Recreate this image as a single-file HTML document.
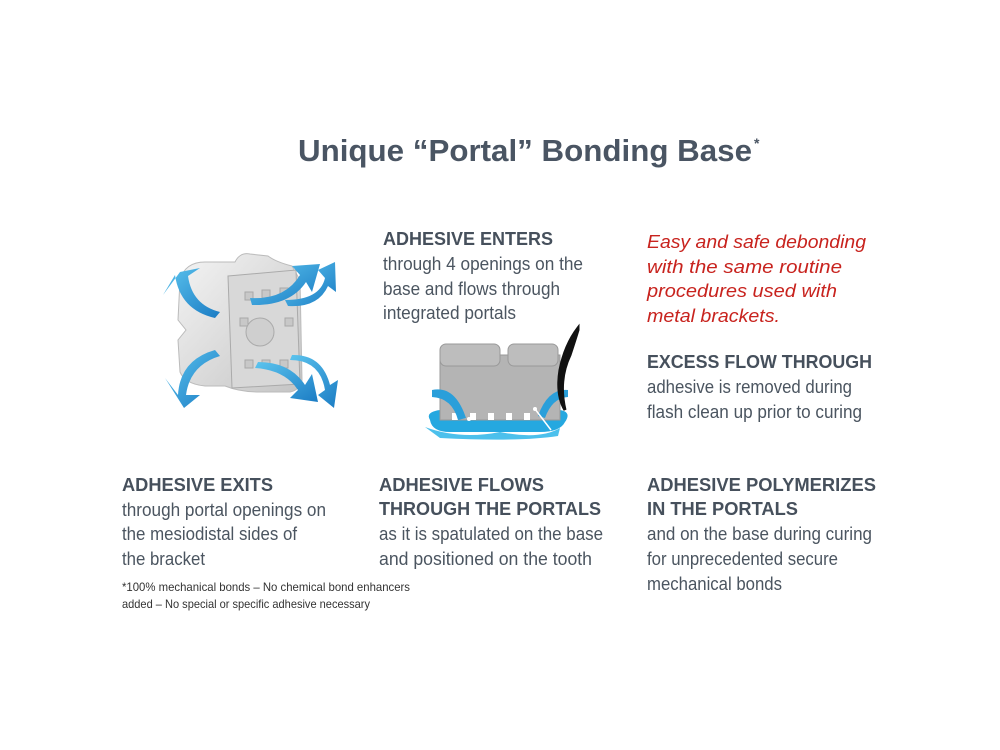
<!DOCTYPE html>
<html><head><meta charset="utf-8"><style>
html,body{margin:0;padding:0;background:#fff;}
svg{display:block}
.h{font-family:"Liberation Sans",sans-serif;font-weight:bold;font-size:18px;fill:#46505c}
.b{font-family:"Liberation Sans",sans-serif;font-size:18px;fill:#4b5560}
.r{font-family:"Liberation Sans",sans-serif;font-style:italic;font-size:18px;fill:#c8231e}
.f{font-family:"Liberation Sans",sans-serif;font-size:12px;fill:#333}
</style></head><body>
<svg width="1000" height="750" viewBox="0 0 1000 750" xmlns="http://www.w3.org/2000/svg">
<rect width="1000" height="750" fill="#fff"/>
<text x="298" y="161" style="font-family:'Liberation Sans',sans-serif;font-weight:bold;font-size:31px;fill:#4a5563" textLength="454" lengthAdjust="spacingAndGlyphs">Unique “Portal” Bonding Base</text>
<text x="754" y="148" style="font-family:'Liberation Sans',sans-serif;font-weight:bold;font-size:14px;fill:#4a5563">*</text>

<text class="h" x="383" y="245" textLength="170" lengthAdjust="spacingAndGlyphs">ADHESIVE ENTERS</text>
<text class="b" x="383" y="270" textLength="200" lengthAdjust="spacingAndGlyphs">through 4 openings on the</text>
<text class="b" x="383" y="295" textLength="177" lengthAdjust="spacingAndGlyphs">base and flows through</text>
<text class="b" x="383" y="319" textLength="133" lengthAdjust="spacingAndGlyphs">integrated portals</text>

<text class="r" x="647" y="248" textLength="219" lengthAdjust="spacingAndGlyphs">Easy and safe debonding</text>
<text class="r" x="647" y="273" textLength="195" lengthAdjust="spacingAndGlyphs">with the same routine</text>
<text class="r" x="647" y="297" textLength="190" lengthAdjust="spacingAndGlyphs">procedures used with</text>
<text class="r" x="647" y="322" textLength="133" lengthAdjust="spacingAndGlyphs">metal brackets.</text>

<text class="h" x="647" y="368" textLength="225" lengthAdjust="spacingAndGlyphs">EXCESS FLOW THROUGH</text>
<text class="b" x="647" y="393" textLength="205" lengthAdjust="spacingAndGlyphs">adhesive is removed during</text>
<text class="b" x="647" y="418" textLength="215" lengthAdjust="spacingAndGlyphs">flash clean up prior to curing</text>

<text class="h" x="122" y="491" textLength="151" lengthAdjust="spacingAndGlyphs">ADHESIVE EXITS</text>
<text class="b" x="122" y="516" textLength="204" lengthAdjust="spacingAndGlyphs">through portal openings on</text>
<text class="b" x="122" y="540" textLength="175" lengthAdjust="spacingAndGlyphs">the mesiodistal sides of</text>
<text class="b" x="122" y="565" textLength="83" lengthAdjust="spacingAndGlyphs">the bracket</text>
<text class="f" x="122" y="591" textLength="288" lengthAdjust="spacingAndGlyphs">*100% mechanical bonds – No chemical bond enhancers</text>
<text class="f" x="122" y="608" textLength="248" lengthAdjust="spacingAndGlyphs">added – No special or specific adhesive necessary</text>

<text class="h" x="379" y="491" textLength="165" lengthAdjust="spacingAndGlyphs">ADHESIVE FLOWS</text>
<text class="h" x="379" y="515" textLength="222" lengthAdjust="spacingAndGlyphs">THROUGH THE PORTALS</text>
<text class="b" x="379" y="540" textLength="224" lengthAdjust="spacingAndGlyphs">as it is spatulated on the base</text>
<text class="b" x="379" y="565" textLength="213" lengthAdjust="spacingAndGlyphs">and positioned on the tooth</text>

<text class="h" x="647" y="491" textLength="229" lengthAdjust="spacingAndGlyphs">ADHESIVE POLYMERIZES</text>
<text class="h" x="647" y="515" textLength="151" lengthAdjust="spacingAndGlyphs">IN THE PORTALS</text>
<text class="b" x="647" y="540" textLength="225" lengthAdjust="spacingAndGlyphs">and on the base during curing</text>
<text class="b" x="647" y="565" textLength="191" lengthAdjust="spacingAndGlyphs">for unprecedented secure</text>
<text class="b" x="647" y="590" textLength="135" lengthAdjust="spacingAndGlyphs">mechanical bonds</text>

<!-- bracket 3D -->
<defs>
<linearGradient id="g1" x1="0" y1="0" x2="1" y2="1"><stop offset="0" stop-color="#f4f4f4"/><stop offset="1" stop-color="#c4c4c4"/></linearGradient>
<linearGradient id="bl" x1="0" y1="0" x2="1" y2="1"><stop offset="0" stop-color="#5cc4ee"/><stop offset="1" stop-color="#1b7cc4"/></linearGradient>
</defs>
<path d="M180 280 Q185 262 205 262 L235 262 Q240 252 250 254 L268 256 Q276 262 292 266 L300 280 L302 380 Q300 390 290 392 L260 392 Q240 392 225 386 L205 386 Q185 384 180 372 L178 340 L186 330 L178 320 Z" fill="url(#g1)" stroke="#bbb"/>
<path d="M228 276 L296 270 L300 384 L232 388 Z" fill="#d8d8d8" stroke="#aaa"/>
<g fill="#c8c8c8" stroke="#a8a8a8">
<rect x="245" y="292" width="8" height="8"/><rect x="262" y="290" width="8" height="8"/><rect x="280" y="288" width="8" height="8"/>
<rect x="245" y="360" width="8" height="8"/><rect x="262" y="360" width="8" height="8"/><rect x="280" y="360" width="8" height="8"/>
<rect x="240" y="318" width="8" height="8"/><rect x="285" y="318" width="8" height="8"/>
</g>
<circle cx="260" cy="332" r="14" fill="#cfcfcf" stroke="#aaa"/>
<g fill="url(#bl)">
<path d="M215 318 Q180 310 175 275 L163 295 L180 272 L200 268 L188 276 Q192 305 220 312 Z"/>
<path d="M215 350 Q180 360 178 395 L165 378 L184 408 L200 395 L186 395 Q190 365 220 356 Z"/>
<path d="M250 298 Q285 300 300 275 L292 266 L320 264 L312 292 L306 282 Q290 306 252 305 Z"/>
<path d="M285 300 Q320 300 325 278 L318 270 L335 262 L336 292 L328 286 Q318 308 288 306 Z"/>
<path d="M255 368 Q285 370 298 390 L290 398 L318 402 L312 374 L305 385 Q290 362 258 362 Z"/>
<path d="M290 360 Q320 360 325 390 L318 395 L334 408 L338 380 L330 385 Q322 354 292 355 Z"/>
</g>

<!-- side view bracket -->
<path d="M430 420 Q425 412 440 410 L560 410 Q572 412 565 422 Q560 432 540 432 L450 432 Q432 432 430 420 Z" fill="#25a8e0"/>
<path d="M425 427 Q460 440 500 432 Q540 440 560 428 L558 436 Q520 442 440 438 Z" fill="#4cc0ec"/>
<rect x="440" y="355" width="120" height="65" fill="#b4b4b4" stroke="#999"/>
<rect x="440" y="344" width="60" height="22" rx="6" fill="#bdbdbd" stroke="#999"/>
<rect x="508" y="344" width="50" height="22" rx="6" fill="#bdbdbd" stroke="#999"/>
<g fill="#fff"><rect x="452" y="413" width="6" height="7"/><rect x="470" y="413" width="6" height="7"/><rect x="488" y="413" width="6" height="7"/><rect x="506" y="413" width="6" height="7"/><rect x="524" y="413" width="6" height="7"/></g>
<path d="M432 390 Q455 385 466 418 L458 420 Q452 398 432 397 Z" fill="#2a9fda"/>
<path d="M568 390 Q548 388 538 416 L545 418 Q552 398 568 397 Z" fill="#2a9fda"/>
<path d="M578 328 Q565 345 560 370 Q556 395 565 410 Q558 380 570 355 Q575 340 578 330 Z" fill="#111" stroke="#111" stroke-width="3"/>
<circle cx="469" cy="419" r="2" fill="#fff"/><circle cx="535" cy="409" r="2" fill="#fff"/>
<line x1="535" y1="409" x2="551" y2="430" stroke="#fff" stroke-width="1.5"/>
</svg>
</body></html>
